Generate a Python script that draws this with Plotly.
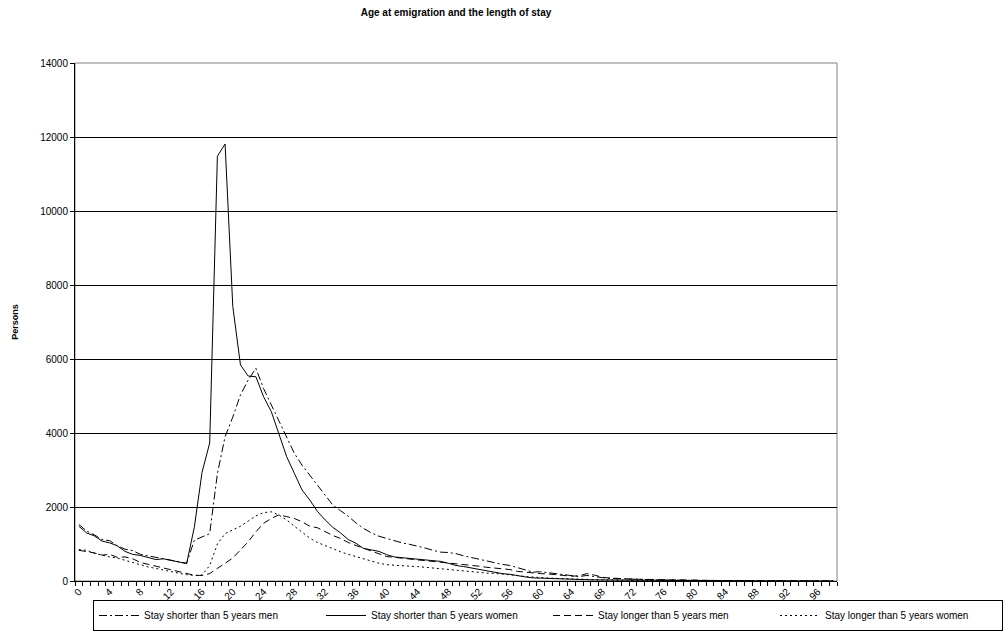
import plotly.graph_objects as go

ages = list(range(0, 99))

short_men = [1530, 1350, 1250, 1120, 1090, 950, 860, 820, 720, 680,
             620, 600, 560, 520, 480, 1100, 1200, 1280, 2900, 3900,
             4430, 5030, 5430, 5750, 5200, 4760, 4300, 3860, 3450, 3130,
             2860, 2620, 2330, 2050, 1900, 1750, 1570, 1420, 1300, 1210,
             1150, 1080, 1030, 990, 950, 890, 830, 780, 770, 740,
             680, 630, 600, 540, 490, 450, 420, 360, 300, 240,
             250, 220, 190, 160, 140, 120, 150, 110, 90, 70,
             60, 55, 45, 40, 35, 30, 25, 22, 20, 18,
             15, 12, 10, 10, 8, 6, 5, 4, 3, 3,
             2, 2, 1, 1, 1, 0, 0, 0, 0]

short_women = [1480, 1300, 1220, 1080, 1030, 950, 800, 720, 690, 630,
               580, 600, 560, 500, 470, 1450, 2930, 3730, 11480, 11810,
               7420, 5840, 5540, 5520, 4980, 4580, 3950, 3360, 2910, 2460,
               2190, 1880, 1650, 1450, 1300, 1120, 1020, 880, 840, 800,
               710, 650, 630, 610, 580, 560, 550, 530, 480, 420,
               390, 350, 300, 270, 230, 200, 180, 140, 110, 85,
               75, 65, 55, 50, 45, 40, 35, 30, 28, 25,
               22, 20, 18, 15, 13, 12, 10, 9, 8, 7,
               6, 5, 4, 4, 3, 3, 2, 2, 1, 1,
               1, 1, 0, 0, 0, 0, 0, 0, 0]

long_men = [830, 800, 760, 700, 720, 640, 650, 600, 500, 450,
            400, 340, 300, 250, 190, 155, 150, 200, 340, 480,
            620, 840, 1060, 1330, 1560, 1690, 1790, 1740, 1690, 1600,
            1480, 1440, 1330, 1230, 1150, 1040, 960, 880, 800, 730,
            660, 640, 610, 590, 570, 550, 530, 520, 490, 470,
            450, 430, 400, 370, 340, 330, 310, 260, 240, 210,
            200, 190, 170, 150, 130, 140, 200, 160, 100, 80,
            65, 55, 50, 45, 40, 35, 30, 28, 25, 22,
            20, 18, 15, 12, 10, 8, 7, 6, 5, 4,
            3, 3, 2, 2, 1, 1, 0, 0, 0]

long_women = [850, 830, 750, 690, 650, 620, 560, 500, 430, 380,
              340, 290, 250, 210, 170, 150, 160, 420, 1000, 1280,
              1380, 1480, 1620, 1760, 1850, 1870, 1780, 1650, 1480, 1320,
              1160, 1040, 950, 860, 790, 720, 660, 600, 530, 480,
              440, 420, 410, 400, 390, 370, 350, 330, 310, 290,
              260, 240, 230, 215, 205, 190, 180, 150, 120, 100,
              90, 80, 70, 60, 50, 45, 40, 35, 30, 25,
              22, 20, 17, 15, 12, 10, 9, 8, 7, 6,
              5, 4, 3, 3, 2, 2, 1, 1, 1, 0,
              0, 0, 0, 0, 0, 0, 0, 0, 0]

series_names = ["Stay shorter than 5 years men", "Stay shorter than 5 years women",
                "Stay longer than 5 years men", "Stay longer than 5 years women"]

x_tick_vals = list(range(0, 97, 4))
x_tick_text = [str(v) for v in x_tick_vals]

FONT = "Liberation Sans, Arial, sans-serif"

fig = go.Figure()
styles = [
    (short_men, "8px,3px,2px,3px"),
    (short_women, "solid"),
    (long_men, "7px,4px"),
    (long_women, "2px,3px"),
]
for (vals, dash), name in zip(styles, series_names):
    fig.add_trace(go.Scatter(x=ages, y=vals, mode="lines", name=name,
                             line=dict(color="black", width=1, dash=dash)))

fig.add_shape(type="rect", xref="paper", yref="paper", x0=0, x1=1, y0=0, y1=1,
              line=dict(color="#808080", width=1), layer="below")

fig.update_layout(
    width=1008, height=639,
    margin=dict(l=75, r=171, t=63, b=58, autoexpand=False),
    paper_bgcolor="white", plot_bgcolor="white",
    font=dict(family=FONT, size=10, color="black"),
    title=dict(text="<b>Age at emigration and the length of stay</b>",
               font=dict(size=10), x=0.5, xref="paper", xanchor="center",
               y=1 - 12 / 639, yref="container", yanchor="middle"),
    showlegend=True,
    legend=dict(orientation="h", x=(1003 - 75) / 762, xanchor="right",
                y=(581 - 600) / 518, yanchor="top",
                bgcolor="rgba(0,0,0,0)",
                bordercolor="black", borderwidth=1, font=dict(size=10),
                itemwidth=40, entrywidth=172, entrywidthmode="pixels",
                traceorder="normal", tracegroupgap=0),
    xaxis=dict(range=[-0.5, 98.5], tickmode="array", tickvals=x_tick_vals,
               ticktext=x_tick_text, tickangle=-45, ticks="",
               showline=True, linecolor="black", linewidth=1,
               showgrid=False, zeroline=False, automargin=False,
               tickfont=dict(size=10),
               minor=dict(ticks="outside", tick0=-0.5, dtick=1, ticklen=4,
                          tickcolor="black", showgrid=False)),
    yaxis=dict(range=[0, 14000], dtick=2000, tick0=0, ticks="outside", ticklen=4,
               tickformat="d",
               tickcolor="black", showline=True, linecolor="black", linewidth=1,
               showgrid=True, gridcolor="black", gridwidth=1, zeroline=False,
               automargin=False, tickfont=dict(size=10),
               title=dict(text="<b>Persons</b>", font=dict(size=9), standoff=20)),
)

fig.write_html("out.html", config={"displayModeBar": False},
               post_script="document.body.style.margin='0px';")
